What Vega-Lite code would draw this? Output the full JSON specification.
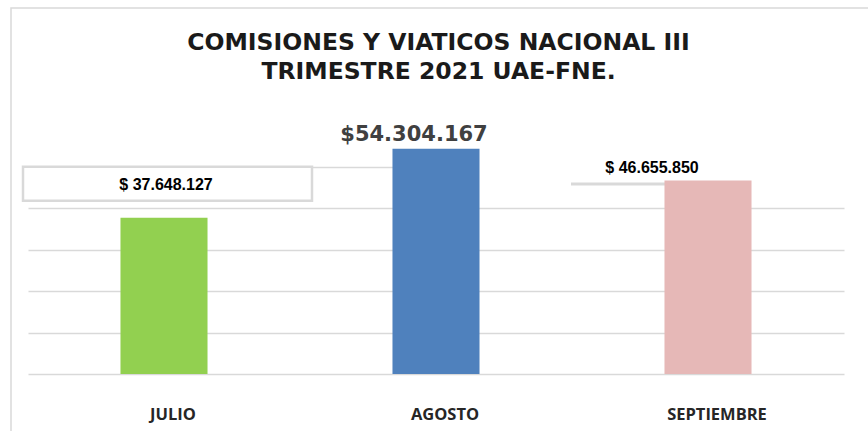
{
  "$schema": "https://vega.github.io/schema/vega-lite/v6.json",
  "width": 857,
  "height": 423,
  "autosize": {"type": "none"},
  "padding": {"left": 11, "top": 8, "right": 0, "bottom": 0},
  "background": "white",
  "config": {
    "view": {"stroke": "#d9d9d9", "strokeWidth": 1.5, "strokeDash": [857, 1280, 423]}
  },
  "title": {
    "text": ["COMISIONES Y VIATICOS NACIONAL III", "TRIMESTRE 2021 UAE-FNE."],
    "font": "DejaVu Sans",
    "fontSize": 23.5,
    "fontWeight": "bold",
    "color": "#1a1a1a",
    "lineHeight": 29,
    "anchor": "middle",
    "offset": 0,
    "dy": 75,
    "dx": -1
  },
  "data": {
    "values": [
      {"mes": "JULIO", "valor": 37648127, "etiqueta": "$ 37.648.127"},
      {"mes": "AGOSTO", "valor": 54304167, "etiqueta": "$54.304.167"},
      {"mes": "SEPTIEMBRE", "valor": 46655850, "etiqueta": "$ 46.655.850"}
    ]
  },
  "encoding": {
    "x": {
      "field": "mes",
      "type": "nominal",
      "sort": ["JULIO", "AGOSTO", "SEPTIEMBRE"],
      "scale": {"range": [17, 833], "paddingInner": 0.68, "paddingOuter": 0.34},
      "axis": {
        "title": null,
        "domain": false,
        "ticks": false,
        "tickSize": 0,
        "grid": false,
        "labelPadding": 0,
        "offset": -12,
        "labelBaseline": "alphabetic",
        "labelFont": "Open Sans",
        "labelFontWeight": "bold",
        "labelFontSize": 16.5,
        "labelColor": "#262626",
        "labelOffset": 9,
        "labelAngle": 0
      }
    },
    "y": {
      "field": "valor",
      "type": "quantitative",
      "scale": {"domain": [0, 60000000], "range": [366, 117], "nice": false, "zero": true},
      "axis": {
        "title": null,
        "labels": false,
        "ticks": false,
        "domain": false,
        "grid": true,
        "gridColor": "#d9d9d9",
        "gridWidth": 1.3,
        "values": [0, 10000000, 20000000, 30000000, 40000000, 50000000]
      }
    }
  },
  "layer": [
    {
      "transform": [{"filter": "datum.mes === 'SEPTIEMBRE'"}],
      "mark": {"type": "point", "shape": "M-229,-22L142,-22L142,-5L-229,-5Z", "size": 4, "filled": true, "fill": "white", "strokeWidth": 0, "opacity": 1}
    },
    {
      "transform": [{"filter": "datum.mes === 'SEPTIEMBRE'"}],
      "mark": {"type": "point", "shape": "M-137,3.6L-43,3.6", "size": 4, "filled": false, "stroke": "#d9d9d9", "strokeWidth": 3, "opacity": 1}
    },
    {
      "mark": {"type": "bar"},
      "encoding": {
        "color": {
          "field": "mes",
          "type": "nominal",
          "scale": {"domain": ["JULIO", "AGOSTO", "SEPTIEMBRE"], "range": ["#92D050", "#4F81BD", "#E6B8B7"]},
          "legend": null
        }
      }
    },
    {
      "transform": [{"filter": "datum.mes === 'JULIO'"}],
      "mark": {"type": "point", "shape": "M-141,-51L148,-51L148,-17L-141,-17Z", "size": 4, "filled": true, "fill": "white", "stroke": "#d9d9d9", "strokeWidth": 2.5, "opacity": 1}
    },
    {
      "transform": [{"filter": "datum.mes === 'JULIO'"}],
      "mark": {"type": "text", "font": "Liberation Sans", "fontWeight": "bold", "fontSize": 16, "letterSpacing": 2.2, "color": "#000000", "align": "center", "baseline": "alphabetic", "dx": 2, "dy": -27.8},
      "encoding": {"text": {"field": "etiqueta"}}
    },
    {
      "transform": [{"filter": "datum.mes === 'AGOSTO'"}],
      "mark": {"type": "text", "font": "DejaVu Sans", "fontWeight": "bold", "fontSize": 21, "letterSpacing": 1.3, "color": "#404040", "align": "center", "baseline": "alphabetic", "dx": -22, "dy": -7.6},
      "encoding": {"text": {"field": "etiqueta"}}
    },
    {
      "transform": [{"filter": "datum.mes === 'SEPTIEMBRE'"}],
      "mark": {"type": "text", "font": "Liberation Sans", "fontWeight": "bold", "fontSize": 16, "letterSpacing": 2.4, "color": "#000000", "align": "center", "baseline": "alphabetic", "dx": -56, "dy": -7},
      "encoding": {"text": {"field": "etiqueta"}}
    }
  ]
}
